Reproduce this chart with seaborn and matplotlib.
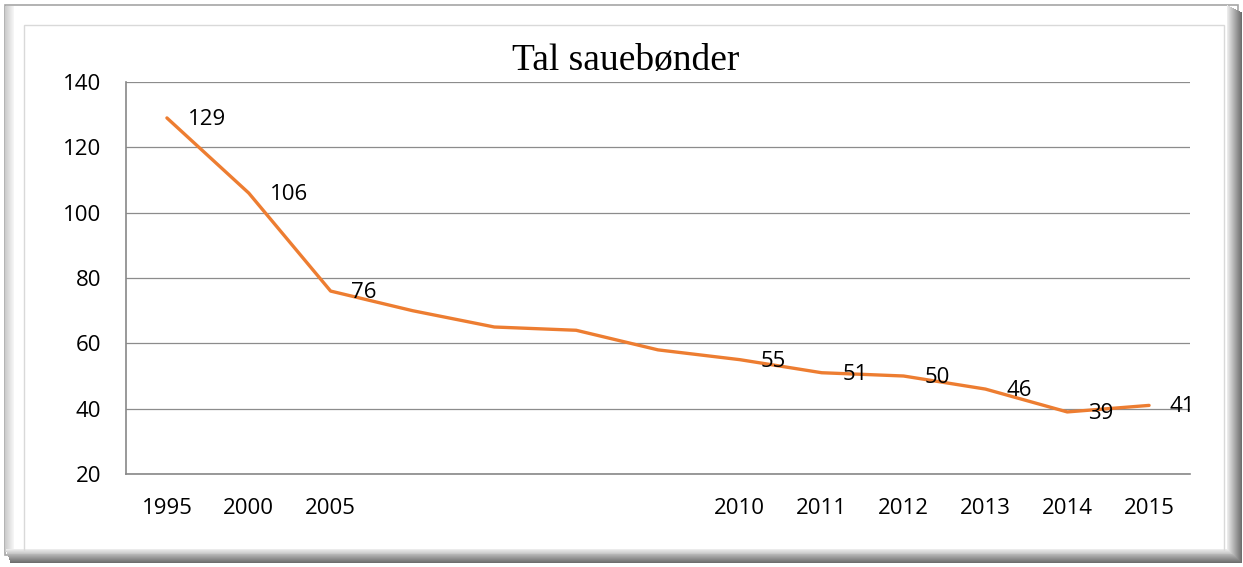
import numpy as np
import pandas as pd
import matplotlib
matplotlib.use("Agg")
import matplotlib.pyplot as plt
from matplotlib.patches import Rectangle
import seaborn as sns

# data
years = ["1995", "2000", "2005", "", "", "", "", "2010", "2011", "2012", "2013", "2014", "2015"]
farmers = [129, 106, 76, 70, 65, 64, 58, 55, 51, 50, 46, 39, 41]
shown_labels = [129, 106, 76, None, None, None, None, 55, 51, 50, 46, 39, 41]
y_ticks = [20, 40, 60, 80, 100, 120, 140]

df = pd.DataFrame({"pos": np.arange(len(years)), "farmers": farmers})

sns.set_theme(style="white")
plt.rcParams["font.family"] = ["Open Sans", "DejaVu Sans"]

W, H = 1243, 567
fig = plt.figure(figsize=(W / 100, H / 100), dpi=100)
fig.patch.set_facecolor("white")


def px_rect(x0, y0, x1, y1, z, **kw):
    # rectangle given in pixel coords from the top-left corner
    fig.patches.append(Rectangle((x0 / W, 1 - y1 / H), (x1 - x0) / W, (y1 - y0) / H,
                                 transform=fig.transFigure, zorder=z, **kw))


# bevelled frame round the chart
px_rect(5, 5, 1238, 555, -10, facecolor="white", edgecolor="#a6a6a6", linewidth=1.2)
for k in range(9):
    g = 0.80 + 0.02 * k
    px_rect(5 + k, 6, 6 + k, 552, -9, facecolor=(g, g, g), edgecolor="none")
for k in range(15):
    g = 0.92 - 0.035 * k
    px_rect(1227 + k, 5 + k * 0.5, 1228 + k, 556 + k * 0.4, -9, facecolor=(g, g, g), edgecolor="none")
    px_rect(6 + k * 0.3, 549 + k * 0.9, 1228 + k, 550 + k * 0.9, -9, facecolor=(g, g, g), edgecolor="none")
px_rect(24, 25, 1224, 551, -8, facecolor="none", edgecolor="#d9d9d9", linewidth=1.0)

ax = fig.add_axes([126 / W, 1 - 474 / H, 1064 / W, 392 / H])
ax.set_facecolor("none")

sns.lineplot(data=df, x="pos", y="farmers", ax=ax, color="#ED7D31",
             linewidth=2.4, zorder=3)

for i, v in enumerate(shown_labels):
    if v is None:
        continue
    ax.annotate(str(v), (i, farmers[i]), xytext=(15, -1), textcoords="offset points",
                ha="left", va="center", fontsize=16, color="black", zorder=4)

ax.set_xlim(-0.5, len(years) - 0.5)
ax.set_ylim(20, 140)
ax.set_yticks(y_ticks)
ax.set_yticklabels([str(t) for t in y_ticks], fontsize=16)
ax.set_xticks(np.arange(len(years)))
ax.set_xticklabels(years, fontsize=16)
ax.set_xticks(np.arange(len(years) + 1) - 0.5, minor=True)
ax.tick_params(axis="x", which="major", length=0, pad=17, labelcolor="black")
ax.tick_params(axis="x", which="minor", length=6, width=1, color="#888888", direction="out")
ax.tick_params(axis="y", length=7, width=1, color="#888888", direction="out", pad=11,
               labelcolor="black")
ax.grid(axis="y", color="#8c8c8c", linewidth=0.9)
ax.grid(axis="x", visible=False)
ax.set_axisbelow(True)
ax.set_xlabel("")
ax.set_ylabel("")
for side in ["top", "right"]:
    ax.spines[side].set_visible(False)
for side in ["left", "bottom"]:
    ax.spines[side].set_color("#888888")
    ax.spines[side].set_linewidth(1.2)

fig.text(626 / W, 1 - 61 / H, "Tal sauebønder", ha="center", va="center",
         fontsize=27, family=["Liberation Serif", "DejaVu Serif"], color="black")

fig.savefig("out.png", dpi=100)
